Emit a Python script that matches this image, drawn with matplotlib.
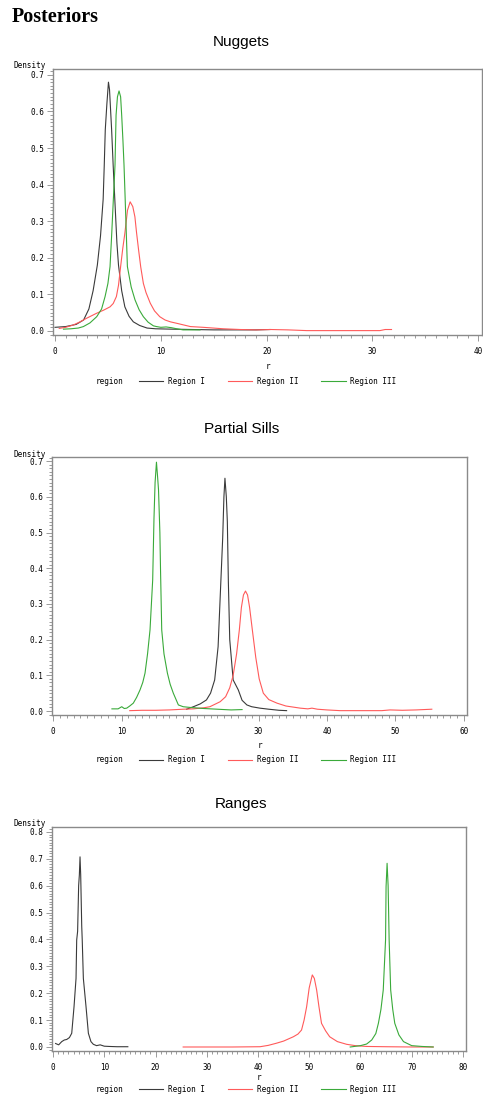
import matplotlib
matplotlib.use('Agg')
import matplotlib.pyplot as plt
from matplotlib.ticker import MultipleLocator

# ---- data (x = r, y = posterior density) ----
regions = ['Region I', 'Region II', 'Region III']
colors = ['#3a3a3a', '#ff5a5a', '#3aaa3a']
titles = ['Nuggets', 'Partial Sills', 'Ranges']

# Nuggets
nug1_x = [0, 1.0, 2.0, 2.7, 3.2, 3.6, 4.0, 4.3, 4.55, 4.65, 4.75, 4.9, 5.05, 5.15, 5.35, 5.5,
          5.65, 5.85, 6.0, 6.3, 6.6, 7.0, 7.4, 8.0, 8.7, 9.5, 11, 13, 15, 17, 19, 20.3]
nug1_y = [0.01, 0.012, 0.018, 0.03, 0.06, 0.11, 0.18, 0.26, 0.36, 0.45, 0.55, 0.62, 0.68, 0.66,
          0.55, 0.45, 0.36, 0.24, 0.18, 0.11, 0.066, 0.04, 0.025, 0.015, 0.008, 0.006, 0.005,
          0.004, 0.003, 0.003, 0.003, 0.004]
nug2_x = [0.4, 1.0, 1.7, 2.3, 3.0, 3.9, 4.6, 5.2, 5.5, 5.8, 6.0, 6.2, 6.4, 6.6, 6.85, 7.1, 7.35,
          7.55, 7.7, 7.9, 8.1, 8.35, 8.6, 9.0, 9.4, 9.9, 10.4, 10.9, 11.5, 12.8, 14, 15.9, 17.5,
          19, 20.4, 22, 23.8, 26, 28, 30.7, 31.2, 31.8]
nug2_y = [0.007, 0.01, 0.016, 0.024, 0.035, 0.048, 0.057, 0.066, 0.075, 0.094, 0.125, 0.176,
          0.225, 0.267, 0.33, 0.353, 0.34, 0.312, 0.27, 0.221, 0.175, 0.13, 0.105, 0.076, 0.055,
          0.039, 0.03, 0.025, 0.021, 0.012, 0.01, 0.006, 0.004, 0.003, 0.004, 0.003, 0.001,
          0.001, 0.001, 0.001, 0.004, 0.004]
nug3_x = [0.8, 1.5, 2.2, 2.68, 3.3, 3.94, 4.4, 4.73, 5.0, 5.2, 5.35, 5.51, 5.6, 5.67, 5.77, 5.9,
          6.05, 6.2, 6.3, 6.42, 6.52, 6.62, 6.84, 7.2, 7.56, 7.95, 8.35, 8.8, 9.3, 9.6, 10.0,
          10.5, 11.0, 11.5, 12.1, 13.0, 13.7]
nug3_y = [0.005, 0.006, 0.008, 0.012, 0.022, 0.039, 0.06, 0.094, 0.13, 0.176, 0.26, 0.358, 0.41,
          0.454, 0.59, 0.64, 0.656, 0.64, 0.59, 0.52, 0.454, 0.37, 0.176, 0.12, 0.085, 0.058,
          0.039, 0.024, 0.014, 0.012, 0.01, 0.011, 0.009, 0.006, 0.003, 0.003, 0.003]

# Partial sills
sill1_x = [19.5, 20.5, 21.5, 22.4, 23.0, 23.6, 24.1, 24.5, 24.77, 24.95, 25.1, 25.3, 25.45,
           25.6, 25.8, 26.3, 27.05, 27.6, 28.3, 29, 30.2, 31.5, 33, 34.1]
sill1_y = [0.005, 0.012, 0.02, 0.031, 0.05, 0.087, 0.18, 0.362, 0.484, 0.6, 0.652, 0.6, 0.53,
           0.36, 0.2, 0.087, 0.059, 0.03, 0.017, 0.012, 0.008, 0.005, 0.002, 0.001]
sill2_x = [11.2, 13, 15, 17, 19, 20.5, 22, 22.9, 24.4, 25.2, 25.8, 26.3, 26.8, 27.2, 27.5, 27.8,
           28.1, 28.4, 28.7, 29.1, 29.6, 30.1, 30.7, 31.5, 32.7, 34, 36.1, 37.2, 37.8, 38.6, 40,
           41.9, 45, 48, 49.2, 51, 53, 55.3]
sill2_y = [0.001, 0.002, 0.002, 0.003, 0.005, 0.006, 0.009, 0.012, 0.026, 0.04, 0.065, 0.1,
           0.16, 0.227, 0.29, 0.325, 0.336, 0.325, 0.29, 0.227, 0.15, 0.09, 0.05, 0.032, 0.022,
           0.014, 0.008, 0.006, 0.008, 0.005, 0.003, 0.001, 0.001, 0.001, 0.003, 0.002, 0.003,
           0.005]
sill3_x = [8.6, 9.5, 10.03, 10.4, 10.76, 11.2, 11.72, 12.2, 12.7, 13.1, 13.43, 13.8, 14.16,
           14.55, 14.74, 14.9, 15.1, 15.25, 15.4, 15.6, 15.7, 15.87, 16.2, 16.7, 17.1, 17.56,
           18.3, 19, 20, 22, 24, 26, 27.6]
sill3_y = [0.006, 0.006, 0.012, 0.007, 0.008, 0.014, 0.022, 0.038, 0.059, 0.08, 0.106, 0.16,
           0.227, 0.367, 0.54, 0.64, 0.697, 0.66, 0.62, 0.5, 0.39, 0.227, 0.16, 0.106, 0.075,
           0.05, 0.017, 0.012, 0.01, 0.007, 0.005, 0.003, 0.004]

# Ranges
rng1_x = [0.5, 1.1, 1.7, 2.2, 2.67, 3.2, 3.65, 4.1, 4.49, 4.62, 4.8, 5.0, 5.14, 5.27, 5.4, 5.6,
          5.7, 5.92, 6.44, 6.9, 7.4, 7.87, 8.5, 9.2, 10, 11, 12.5, 14.6]
rng1_y = [0.013, 0.008, 0.02, 0.026, 0.028, 0.035, 0.051, 0.15, 0.255, 0.398, 0.43, 0.6, 0.64,
          0.707, 0.64, 0.45, 0.398, 0.255, 0.15, 0.051, 0.02, 0.01, 0.005, 0.008, 0.003, 0.002,
          0.001, 0.001]
rng2_x = [25.4, 30, 35, 40.4, 42, 43.6, 45, 46.9, 47.8, 48.5, 49.0, 49.5, 50.0, 50.6, 51.0,
          51.45, 51.9, 52.4, 53.2, 54, 55.5, 57.3, 59, 61.2, 65, 70, 74.2]
rng2_y = [0.0, 0.0, 0.0, 0.001, 0.006, 0.014, 0.022, 0.038, 0.048, 0.063, 0.1, 0.15, 0.22, 0.268,
          0.255, 0.212, 0.15, 0.088, 0.06, 0.038, 0.02, 0.01, 0.005, 0.002, 0.001, 0.0, 0.0]
rng3_x = [58, 60, 61.2, 62.2, 63.0, 63.5, 64.0, 64.45, 64.9, 65.0, 65.2, 65.4, 65.5, 65.6, 65.9,
          66.3, 66.7, 67.5, 68.4, 70, 72, 74.2]
rng3_y = [0.0, 0.005, 0.011, 0.026, 0.05, 0.088, 0.14, 0.212, 0.398, 0.596, 0.683, 0.6, 0.5,
          0.398, 0.212, 0.14, 0.088, 0.045, 0.02, 0.005, 0.002, 0.0]

panels = [
    [(nug1_x, nug1_y), (nug2_x, nug2_y), (nug3_x, nug3_y)],
    [(sill1_x, sill1_y), (sill2_x, sill2_y), (sill3_x, sill3_y)],
    [(rng1_x, rng1_y), (rng2_x, rng2_y), (rng3_x, rng3_y)],
]

# ---- layout (figure fractions) ----
W, H = 483, 1099
rects = [(53, 69, 482, 335), (52, 457, 467, 715), (52, 827, 466, 1051)]   # left, top, right, bottom px
xlims = [(-0.19, 40.35), (-0.15, 60.44), (-0.2, 80.6)]
ylims = [(-0.011, 0.716), (-0.0112, 0.7115), (-0.0149, 0.818)]
title_y = [42, 429, 804]
legend_y = [381, 760, 1089]
xlabel_y = [366, 745, 1077]

mono = 'DejaVu Sans Mono'
gray = '#8a8a8a'

fig = plt.figure(figsize=(W / 100, H / 100), dpi=100)
fig.text(12 / W, 1 - 22 / H, 'Posteriors', family='Liberation Serif', weight='bold',
         fontsize=14.5, va='baseline', ha='left')

for k in range(3):
    l, t, r, b = rects[k]
    ax = fig.add_axes([l / W, 1 - b / H, (r - l) / W, (b - t) / H])
    for (xs, ys), c, lab in zip(panels[k], colors, regions):
        ax.plot(xs, ys, color=c, lw=0.8, label=lab)
    ax.set_xlim(xlims[k])
    ax.set_ylim(ylims[k])
    ax.xaxis.set_major_locator(MultipleLocator(10))
    ax.xaxis.set_minor_locator(MultipleLocator(1))
    ax.yaxis.set_major_locator(MultipleLocator(0.1))
    ax.yaxis.set_minor_locator(MultipleLocator(0.01))
    ax.xaxis.set_major_formatter(plt.FuncFormatter(lambda v, p: '%d' % round(v)))
    ax.yaxis.set_major_formatter(plt.FuncFormatter(lambda v, p: '%.1f' % v))
    for sp in ax.spines.values():
        sp.set_color(gray)
        sp.set_linewidth(1.0)
    ax.tick_params(which='both', direction='out', color=gray, width=0.6, labelsize=5.5)
    ax.tick_params(axis='x', which='major', length=4, pad=5)
    ax.tick_params(axis='y', which='major', length=4, pad=2)
    ax.tick_params(which='minor', length=2)
    for lbl in ax.get_xticklabels() + ax.get_yticklabels():
        lbl.set_family(mono)

    fig.text(0.5, 1 - title_y[k] / H, titles[k], family='Liberation Sans', fontsize=11,
             ha='center', va='center')
    fig.text(13 / W, 1 - (t - 3) / H, 'Density', family=mono, fontsize=5.5, ha='left', va='center')
    fig.text((l + r) / 2 / W, 1 - xlabel_y[k] / H, 'r', family=mono, fontsize=5.5,
             ha='center', va='center')
    fig.text(96 / W, 1 - legend_y[k] / H, 'region', family=mono, fontsize=5.5, ha='left', va='center')
    leg = ax.legend(loc='center', bbox_to_anchor=(((140 + 395) / 2 - l) / (r - l),
                                                  -(legend_y[k] - b) / (b - t)),
                    ncol=3, frameon=False, prop={'family': mono, 'size': 5.5},
                    handlelength=3.2, handletextpad=0.6, columnspacing=3.0)

fig.savefig('out.png', dpi=100)
